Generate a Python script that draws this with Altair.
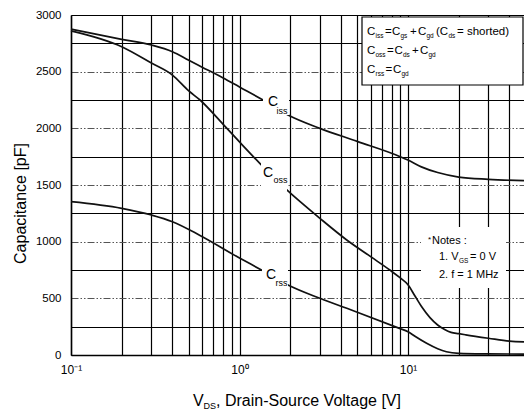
import altair as alt
import pandas as pd

# ---- data ----
ciss_v = [0.1, 0.2, 0.3, 0.4, 0.5, 0.6, 0.8, 1.0, 1.38, 1.94, 3.0, 5.0, 9.0, 10.0, 12.0, 15.0, 20.0, 30.0, 48.8]
ciss_c = [2875, 2785, 2735, 2676, 2600, 2540, 2445, 2365, 2250, 2118, 2000, 1885, 1750, 1720, 1660, 1610, 1570, 1550, 1538]

coss_v = [0.1, 0.2, 0.3, 0.4, 0.5, 0.583, 0.8, 1.0, 1.32, 1.91, 3.0, 4.33, 6.0, 7.8, 9.0, 10.0, 11.0, 12.0,
          13.5, 15.0, 16.5, 18.0, 20.0, 22.0, 30.0, 40.0, 48.8]
coss_c = [2860, 2720, 2576, 2470, 2330, 2250, 2035, 1880, 1691, 1456, 1206, 1015, 868, 750, 680, 620, 520, 430,
          330, 265, 225, 200, 188, 178, 148, 122, 115]

crss_v = [0.1, 0.2, 0.3, 0.4, 0.583, 1.0, 1.35, 1.94, 3.0, 5.0, 8.9, 10.0, 11.0, 12.9, 15.0, 16.9, 20.0, 30.0, 48.8]
crss_c = [1353, 1294, 1235, 1176, 1055, 856, 750, 618, 500, 377, 235, 206, 165, 103, 55, 29, 15, 10, 8]

x_ticks = [0.1, 0.2, 0.3, 0.4, 0.5, 0.6, 0.7, 0.8, 0.9, 1, 2, 3, 4, 5, 6, 7, 8, 9, 10, 20, 30, 40]
y_ticks = [0, 250, 500, 750, 1000, 1250, 1500, 1750, 2000, 2250, 2500, 2750, 3000]

# ---- layout ----
X0, TOP, W, H = 71, 15, 453, 340
DEC = 168.5              # pixels per decade
VMIN = 0.1
VMAX = VMIN * 10 ** (W / DEC)
CMAX = 3000
FONT = "Liberation Sans"


def vx(px):
    return VMIN * 10 ** ((px - X0) / DEC)


def cy(py):
    return (TOP + H - py) * CMAX / H


curves = pd.concat([
    pd.DataFrame({"v": ciss_v, "c": ciss_c, "s": "Ciss"}),
    pd.DataFrame({"v": coss_v, "c": coss_c, "s": "Coss"}),
    pd.DataFrame({"v": crss_v, "c": crss_c, "s": "Crss"}),
])

xscale = alt.Scale(type="log", domain=[VMIN, VMAX], nice=False)
yscale = alt.Scale(domain=[0, CMAX], nice=False)

xaxis = alt.Axis(
    values=x_ticks, title=None, ticks=False, grid=True, gridColor="#000", gridWidth=1.2,
    domainColor="#000", domainWidth=1.5, labelFlush=False, labelOverlap=False,
    labelExpr="datum.value == 0.1 ? '10⁻¹' : (datum.value == 1 ? '10⁰' : (datum.value == 10 ? '10¹' : ''))",
    labelFont=FONT, labelFontSize=12, labelColor="#000", labelPadding=9,
)
dash_test = "datum.value % 500 === 0 && datum.value > 0 && datum.value < 3000"
yaxis = alt.Axis(
    values=y_ticks, format="d", ticks=False, grid=True,
    gridColor={"condition": {"test": dash_test, "value": "#555"}, "value": "#000"},
    gridWidth={"condition": {"test": dash_test, "value": 1}, "value": 1.2},
    gridDash={"condition": {"test": dash_test, "value": [7, 2, 1.5, 2, 1.5, 2]}, "value": []},
    domainColor="#000", domainWidth=1.5, labelFlush=False,
    labelExpr="datum.value % 500 === 0 ? datum.label : ''",
    labelFont=FONT, labelFontSize=11.5, labelColor="#000", labelPadding=10,
    title="Capacitance [pF]", titleFont=FONT, titleFontSize=16, titleFontWeight="normal",
    titleColor="#000", titleX=-51, titleY=188, titleAngle=270, titleBaseline="middle",
    titleAlign="center",
)

xenc = alt.X("v:Q", scale=xscale, axis=xaxis)
yenc = alt.Y("c:Q", scale=yscale, axis=yaxis)

lines = alt.Chart(curves).mark_line(color="#111", strokeWidth=1.7, interpolate="monotone").encode(
    x=xenc, y=yenc, detail="s:N"
)

# white masks behind curve labels and the notes block (pixel boxes -> data space)
mask_px = [(263, 289, 92, 115), (261, 287, 162, 191), (262, 288, 264, 288), (421, 506, 227, 288)]
masks = pd.DataFrame({
    "v": [vx(a) for a, b, c, d in mask_px], "v2": [vx(b) for a, b, c, d in mask_px],
    "c": [cy(c) for a, b, c, d in mask_px], "c2": [cy(d) for a, b, c, d in mask_px],
})
mask_layer = alt.Chart(masks).mark_rect(color="white").encode(
    x=xenc, x2="v2:Q", y=yenc, y2="c2:Q"
)

box = pd.DataFrame({"v": [vx(362)], "v2": [vx(523)], "c": [cy(17)], "c2": [cy(85)]})
box_layer = alt.Chart(box).mark_rect(fill="white", stroke="#000", strokeWidth=1.2).encode(
    x=xenc, x2="v2:Q", y=yenc, y2="c2:Q"
)

M, S = 11.5, 6.5
# text pieces: (text, left px, baseline px, font size)
pieces = [
    # curve labels
    ("C", 268, 106, 14), ("iss", 276.5, 114, 9),
    ("C", 263, 177, 14), ("oss", 273.5, 183, 9),
    ("C", 266, 279, 14), ("rss", 275.5, 286, 9),
    # formula box
    ("C", 367, 35, M), ("iss", 375.5, 38, S), ("=", 385, 35, M), ("C", 392, 35, M), ("gs", 400.5, 38, S),
    ("+", 410, 35, M), ("C", 418, 35, M), ("gd", 426.5, 38, S), ("(C", 436, 35, M), ("ds", 448.5, 38, S),
    ("= shorted)", 457, 35, M),
    ("C", 367, 54, M), ("oss", 375.5, 57, S), ("=", 387, 54, M), ("C", 394.5, 54, M), ("ds", 403, 57, S),
    ("+", 412, 54, M), ("C", 420, 54, M), ("gd", 428.5, 57, S),
    ("C", 367, 73, M), ("rss", 375.5, 76, S), ("=", 385.5, 73, M), ("C", 393, 73, M), ("gd", 401.5, 76, S),
    # notes
    ("*", 428, 242, 8), ("Notes :", 432, 244, 11), ("1. V", 439, 260, 11), ("GS", 459, 263, 6.5),
    ("= 0 V", 470, 260, 11), ("2. f = 1 MHz", 439, 278, 11),
    # x axis title
    ("V", 193, 406, 16), ("DS", 203.5, 409, 9), (", Drain-Source Voltage [V]", 216, 406, 16),
]
texts = pd.DataFrame({
    "t": [p[0] for p in pieces],
    "v": [vx(p[1]) for p in pieces],
    "c": [cy(p[2]) for p in pieces],
    "size": [p[3] for p in pieces],
})
text_layer = alt.Chart(texts).mark_text(
    align="left", baseline="alphabetic", font=FONT, color="#000"
).encode(
    x=xenc, y=yenc, text="t:N", size=alt.Size("size:Q", scale=None, legend=None)
)

chart = alt.layer(lines, mask_layer, box_layer, text_layer).properties(
    width=W, height=H, autosize="none",
    padding={"left": X0, "top": TOP, "right": 0, "bottom": 414 - TOP - H},
    background="white",
).configure_view(stroke="transparent")

chart.save("out.html", embed_options={"renderer": "svg", "actions": False})
